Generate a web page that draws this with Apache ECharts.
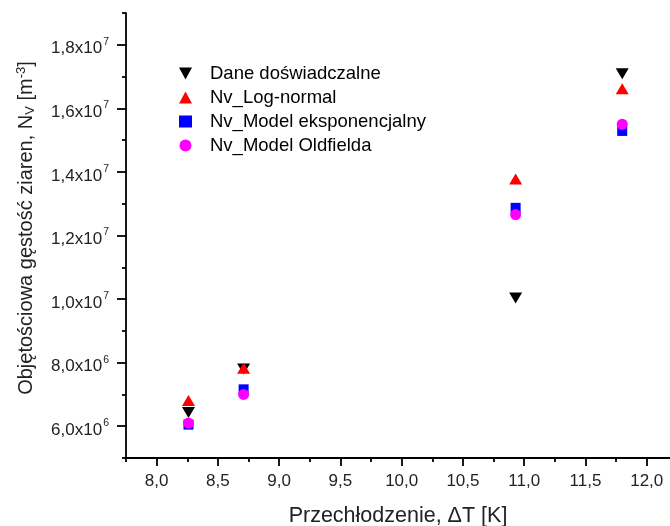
<!DOCTYPE html>
<html>
<head>
<meta charset="utf-8">
<script src="https://cdn.jsdelivr.net/npm/echarts@6/dist/echarts.min.js"></script>
<style>html,body{margin:0;padding:0;background:#fff}#c{width:670px;height:526px}</style>
</head>
<body>
<div id="c"></div>
<script>
// ---- data ----
const xValues = [8.26, 8.71, 10.93, 11.80];
const daneDoswiadczalne = [6.43e6, 7.80e6, 1.003e7, 1.709e7];
const nvLogNormal = [6.81e6, 7.82e6, 1.378e7, 1.662e7];
const nvModelEksponencjalny = [6.05e6, 7.16e6, 1.287e7, 1.529e7];
const nvModelOldfielda = [6.10e6, 7.00e6, 1.266e7, 1.550e7];
const seriesNames = ['Dane doświadczalne', 'Nv_Log-normal', 'Nv_Model eksponencjalny', 'Nv_Model Oldfielda'];
const xMajorTicks = [8.0, 8.5, 9.0, 9.5, 10.0, 10.5, 11.0, 11.5, 12.0];
const xMinorTicks = [7.75, 8.25, 8.75, 9.25, 9.75, 10.25, 10.75, 11.25, 11.75];
const yMajorTicks = [6e6, 8e6, 1e7, 1.2e7, 1.4e7, 1.6e7, 1.8e7];
const yMinorTicks = [5e6, 7e6, 9e6, 1.1e7, 1.3e7, 1.5e7, 1.7e7, 1.9e7];
const xTitle = 'Przechłodzenie, ΔT [K]';
const yTitle = 'Objętościowa gęstość ziaren, N{sub|V} [m{sup|-3}]';

const FONT = '"Liberation Sans", Arial, sans-serif';
const downTri = 'path://M0,0L12,0L6,11Z';
const upTri = 'path://M6,0L12,11L0,11Z';

function pair(xs, ys){ return xs.map((x,i)=>[x, ys[i]]); }
function fmtSci(v){
  const e = Math.floor(Math.log10(v) + 1e-9);
  const m = v / Math.pow(10, e);
  return '{b|' + m.toFixed(1).replace('.', ',') + 'x10}{sup|' + e + '}';
}

const chart = echarts.init(document.getElementById('c'), null, {renderer:'canvas'});
const X_MIN = 7.75, X_MAX = 12.19, Y_MIN = 5e6, Y_MAX = 1.9e7;

chart.setOption({
  animation:false,
  backgroundColor:'#fff',
  grid:{left:126, right:0, top:13, bottom:68, containLabel:false, outerBoundsMode:'none'},
  legend:{
    orient:'vertical', left:174, top:59, itemWidth:13, itemHeight:12, itemGap:5,
    textStyle:{fontFamily:FONT, fontSize:18.5, color:'#000', padding:[0,0,0,13]},
    data:[
      {name:seriesNames[0], icon:downTri},
      {name:seriesNames[1], icon:upTri},
      {name:seriesNames[2], icon:'rect'},
      {name:seriesNames[3], icon:'circle'}
    ]
  },
  xAxis:[{
    type:'value', min:X_MIN, max:X_MAX,
    axisLine:{show:true, onZero:false, lineStyle:{color:'#000', width:1.8}},
    axisTick:{show:true, inside:false, length:8, customValues:xMajorTicks, lineStyle:{color:'#000', width:1.8}},
    axisLabel:{customValues:xMajorTicks, margin:15, fontFamily:FONT, fontSize:17, color:'#222',
      formatter:v=>v.toFixed(1).replace('.', ',')},
    splitLine:{show:false},
    name:xTitle, nameLocation:'middle', nameGap:47,
    nameTextStyle:{fontFamily:FONT, fontSize:21.5, color:'#222'}
  },{
    type:'value', min:X_MIN, max:X_MAX, position:'bottom',
    axisLine:{show:false},
    axisTick:{show:true, inside:false, length:4, customValues:xMinorTicks, lineStyle:{color:'#000', width:1.8}},
    axisLabel:{show:false}, splitLine:{show:false}
  }],
  yAxis:[{
    type:'value', min:Y_MIN, max:Y_MAX,
    axisLine:{show:true, onZero:false, lineStyle:{color:'#000', width:1.8}},
    axisTick:{show:true, inside:false, length:9, customValues:yMajorTicks, lineStyle:{color:'#000', width:1.8}},
    axisLabel:{customValues:yMajorTicks, margin:17, color:'#222', formatter:fmtSci,
      rich:{
        b:{fontFamily:FONT, fontSize:17, color:'#222', padding:[8,0,0,0]},
        sup:{fontFamily:FONT, fontSize:10.5, color:'#222', padding:[0,0,6,1]}
      }},
    splitLine:{show:false}
  },{
    type:'value', min:Y_MIN, max:Y_MAX, position:'left',
    axisLine:{show:false},
    axisTick:{show:true, inside:false, length:4, customValues:yMinorTicks, lineStyle:{color:'#000', width:1.8}},
    axisLabel:{show:false}, splitLine:{show:false}
  }],
  graphic:[{
    type:'text', x:26, y:228, rotation:Math.PI/2,
    style:{
      text:yTitle, fontFamily:FONT, fontSize:20, fill:'#222', align:'center', verticalAlign:'middle',
      rich:{
        sub:{fontFamily:FONT, fontSize:13, fill:'#222', padding:[8,0,0,0]},
        sup:{fontFamily:FONT, fontSize:13, fill:'#222', padding:[0,0,9,0]}
      }
    }
  }],
  series:[
    {name:seriesNames[0], type:'scatter', data:pair(xValues, daneDoswiadczalne), symbol:downTri, symbolSize:[13,11], itemStyle:{color:'#000', opacity:1}},
    {name:seriesNames[1], type:'scatter', data:pair(xValues, nvLogNormal), symbol:upTri, symbolSize:[13,11], itemStyle:{color:'#ff0000', opacity:1}},
    {name:seriesNames[2], type:'scatter', data:pair(xValues, nvModelEksponencjalny), symbol:'rect', symbolSize:10, itemStyle:{color:'#0000ff', opacity:1}},
    {name:seriesNames[3], type:'scatter', data:pair(xValues, nvModelOldfielda), symbol:'circle', symbolSize:11, itemStyle:{color:'#ff00ff', opacity:1}}
  ]
});
</script>
</body>
</html>
